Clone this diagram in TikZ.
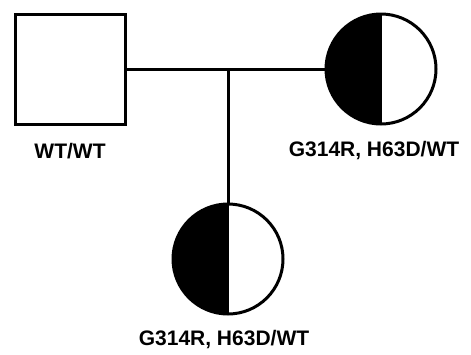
\documentclass[tikz,border=0pt]{standalone}
\usepackage{fontspec}
\setmainfont{Liberation Sans}
\usetikzlibrary{positioning}

\tikzset{
    male/.style={draw,line width=3pt,minimum size=110pt,inner sep=0pt},
    carrier/.style={circle,draw,line width=3pt,minimum size=110pt,inner sep=0pt,
        path picture={
            \fill[black] (path picture bounding box.south west) rectangle (path picture bounding box.north);
            \draw[line width=2pt] (path picture bounding box.south) -- (path picture bounding box.north);
        }},
    geno/.style={font=\bfseries\fontsize{21}{25}\selectfont},
    link/.style={line width=3pt}
}

\begin{document}
\begin{tikzpicture}[x=1pt,y=-1pt]
        \useasboundingbox (0,0) rectangle (471,354);
        % parents
        \node[male] (father) at (70,69) {};
        \node[carrier] (mother) at (381,69) {};
        \node[geno] (fatherlab) at (70,151) {WT/WT};
        \node[geno] (motherlab) at (374,151) {G314R, H63D/WT};
        % child
        \node[carrier] (child) at (228,259) {};
        \node[geno] (childlab) at (224,340) {G314R, H63D/WT};
        % mating and descent lines
        \draw[link] (father.east) -- coordinate (mating) (mother.west);
        \coordinate (drop) at (child.north |- mating);
        \draw[link] (drop) -- (child.north);
\end{tikzpicture}
\end{document}
